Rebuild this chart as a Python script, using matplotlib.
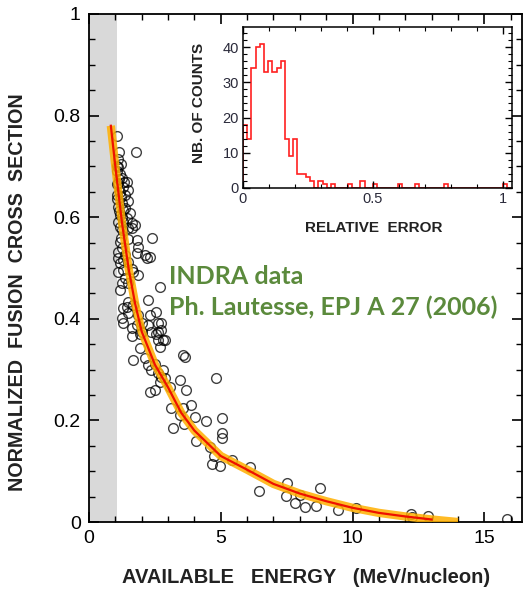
import numpy as np
import matplotlib
matplotlib.use("Agg")
import matplotlib.pyplot as plt
from matplotlib.ticker import MultipleLocator

plt.rcParams['font.family'] = ['Liberation Sans', 'DejaVu Sans']

# Scatter data: available energy (MeV/nucleon) vs normalized fusion cross section
energy = [
    1.05, 1.77, 1.14, 1.09, 1.11, 1.17, 1.24, 1.34, 1.43, 1.11, 1.30, 1.49, 1.17, 1.36,
    1.05, 1.49, 1.24, 1.11, 1.36, 1.55, 1.17, 1.43, 1.30, 1.62, 1.74, 1.17, 1.49,
    1.08, 1.15, 1.22, 1.06, 1.13, 1.26, 1.10, 1.21, 1.05, 1.20, 1.28, 1.08,
    1.24, 1.62, 1.81, 1.49, 1.17, 2.40, 1.24, 1.11, 1.36, 1.87, 1.81, 2.12, 2.19, 1.11,
    1.30, 1.17, 1.49, 1.62, 1.30, 1.68, 1.11, 1.87, 1.36, 1.24, 1.49, 1.17, 2.69, 1.49,
    1.43, 1.68, 1.30, 1.49, 1.24, 1.87, 2.00, 2.25, 2.56, 2.75, 2.31, 2.25, 1.62, 2.00,
    2.63, 2.37, 2.31,
    1.30, 1.81, 1.93, 2.63, 2.75, 2.56, 2.81, 2.63, 1.93, 1.68, 2.25, 2.37, 2.63, 2.81,
    2.69, 2.50, 2.31, 3.07, 3.45, 3.70, 3.57, 3.64, 3.13, 3.57, 3.89, 3.45,
    1.62, 2.12, 2.50, 2.75, 2.88, 2.69, 2.88, 3.17, 3.61, 4.02, 4.05, 4.43, 4.58, 4.65,
    4.81, 5.03, 5.03, 5.03, 4.96, 5.41, 6.10, 6.45, 7.53, 7.49, 7.80, 8.02, 8.18, 8.60,
    8.75, 9.44, 10.14, 12.22, 12.26, 12.85, 15.86, 4.75,
]
cross_section = [
    0.760, 0.728, 0.728, 0.714, 0.699, 0.686, 0.677, 0.670, 0.670, 0.667, 0.660, 0.654, 0.650, 0.644,
    0.644, 0.631, 0.627, 0.621, 0.618, 0.608, 0.604, 0.598, 0.591, 0.588, 0.585, 0.581, 0.578,
    0.700, 0.675, 0.640, 0.665, 0.612, 0.600, 0.590, 0.560, 0.690, 0.705, 0.615, 0.635,
    0.575, 0.578, 0.555, 0.558, 0.552, 0.560, 0.539, 0.532, 0.526, 0.542, 0.529, 0.526, 0.519, 0.519,
    0.516, 0.509, 0.512, 0.499, 0.496, 0.493, 0.493, 0.486, 0.480, 0.470, 0.470, 0.457, 0.463, 0.434,
    0.424, 0.427, 0.421, 0.411, 0.401, 0.407, 0.391, 0.437, 0.414, 0.391, 0.407, 0.388, 0.381, 0.375,
    0.375, 0.375, 0.522,
    0.391, 0.388, 0.371, 0.391, 0.378, 0.371, 0.358, 0.358, 0.342, 0.319, 0.309, 0.299, 0.293, 0.299,
    0.276, 0.260, 0.256, 0.266, 0.280, 0.260, 0.329, 0.325, 0.224, 0.224, 0.230, 0.211,
    0.366, 0.322, 0.312, 0.286, 0.283, 0.345, 0.358, 0.186, 0.193, 0.206, 0.160, 0.199, 0.148, 0.114,
    0.283, 0.204, 0.175, 0.165, 0.110, 0.123, 0.109, 0.061, 0.076, 0.051, 0.038, 0.053, 0.030, 0.032,
    0.066, 0.024, 0.027, 0.016, 0.009, 0.012, 0.006, 0.130,
]

# fitted curve
fit_energy = [0.83, 1.0, 1.25, 1.5, 1.75, 2.0, 2.5, 3.0, 3.5, 4.0, 4.5, 5.0, 6.0, 7.0,
              8.0, 9.0, 10.0, 11.0, 12.0, 13.0, 14.0]
fit_sigma = [0.78, 0.70, 0.59, 0.50, 0.43, 0.375, 0.31, 0.265, 0.215, 0.18, 0.155, 0.13,
             0.103, 0.075, 0.056, 0.041, 0.028, 0.018, 0.011, 0.005, 0.0]

# inset histogram of relative errors (bin width 1/62)
hist_counts = [18, 14, 34, 40, 41, 33, 36, 33, 34, 36, 14, 9, 14, 4, 4, 3, 2, 0, 2, 1,
               0, 1, 0, 0, 0, 1, 0, 0, 2, 0, 0, 1, 0, 0, 0, 0, 0, 1, 0, 0,
               0, 1, 0, 0, 0, 0, 0, 0, 1, 0, 0, 0, 0, 0, 0, 0, 0, 0, 0, 0,
               0, 0, 1, 0]
hist_edges = np.arange(len(hist_counts) + 1) / 62.0

fig = plt.figure(figsize=(5.24, 5.93), dpi=100)
ax = fig.add_axes([0.1698, 0.1197, 0.8263, 0.8567])

ax.axvspan(0, 1.05, color='#d9d9d9', zorder=0, lw=0)
ax.plot(energy, cross_section, 'o', ms=7, mfc='none', mec='black', mew=1.0, alpha=0.75, zorder=2)
ax.plot(fit_energy, fit_sigma, color='#ffb000', lw=6, alpha=0.85, solid_capstyle='butt', zorder=3)
ax.plot(fit_energy[:-1], fit_sigma[:-1], color='#ee1100', lw=1.6, zorder=4)

ax.set_xlim(0, 16.43)
ax.set_ylim(0, 1)
ax.xaxis.set_major_locator(MultipleLocator(5))
ax.xaxis.set_minor_locator(MultipleLocator(1))
ax.yaxis.set_major_locator(MultipleLocator(0.2))
ax.yaxis.set_minor_locator(MultipleLocator(0.05))
ax.yaxis.set_major_formatter(plt.FuncFormatter(lambda v, p: '%g' % round(v, 2)))
ax.tick_params(which='both', direction='in', top=True, right=True, labelsize=14, colors='black')
ax.tick_params(which='major', length=7, width=1.2, pad=6)
ax.tick_params(which='minor', length=4, width=1.0)
for s in ax.spines.values():
    s.set_linewidth(1.3)

fig.text(0.584, 0.026, 'AVAILABLE   ENERGY   (MeV/nucleon)', ha='center', va='center',
         fontsize=14.5, fontweight='bold', color='#222222')
fig.text(0.034, 0.508, 'NORMALIZED  FUSION  CROSS  SECTION', ha='center', va='center',
         rotation=90, fontsize=14.2, fontweight='bold', color='#222222')

fig.text(0.322, 0.533, 'INDRA data', ha='left', va='center', fontsize=18,
         fontweight='bold', color='#5b8a3c', family=['Lato', 'DejaVu Sans'])
fig.text(0.322, 0.482, 'Ph. Lautesse, EPJ A 27 (2006)', ha='left', va='center', fontsize=18,
         fontweight='bold', color='#5b8a3c', family=['Lato', 'DejaVu Sans'])

# inset
ins = fig.add_axes([0.4637, 0.683, 0.5134, 0.2715])
ins.stairs(hist_counts, hist_edges, color='#ff2020', lw=1.2)
ins.set_xlim(0, 1.035)
ins.set_ylim(0, 45.7)
ins.xaxis.set_major_locator(MultipleLocator(0.5))
ins.xaxis.set_minor_locator(MultipleLocator(0.1))
ins.yaxis.set_major_locator(MultipleLocator(10))
ins.yaxis.set_minor_locator(MultipleLocator(2))
ins.xaxis.set_major_formatter(plt.FuncFormatter(lambda v, p: '%g' % v))
ins.tick_params(which='both', direction='in', top=True, right=True, labelsize=10.5,
                labelcolor='#2a2a3a')
ins.tick_params(which='major', length=5, width=1.0, pad=3)
ins.tick_params(which='minor', length=3, width=0.8)
for s in ins.spines.values():
    s.set_linewidth(1.1)
fig.text(0.714, 0.615, 'RELATIVE  ERROR', ha='center', va='center', fontsize=11,
         fontweight='bold', color='#222222')
fig.text(0.380, 0.826, 'NB. OF COUNTS', ha='center', va='center', rotation=90,
         fontsize=11, fontweight='bold', color='#222222')

fig.savefig('out.png', dpi=100)
